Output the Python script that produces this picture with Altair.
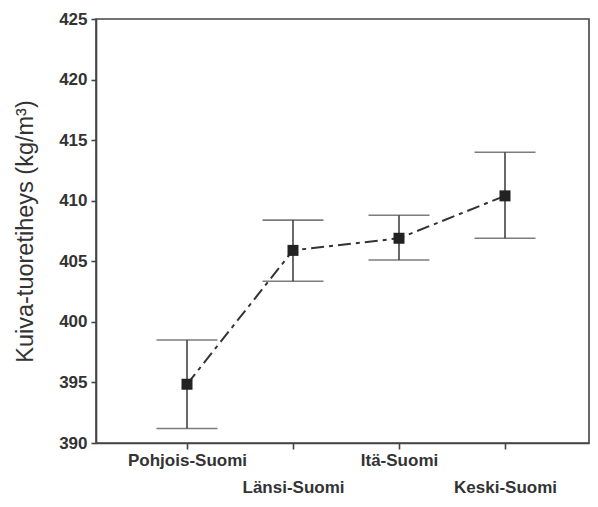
import altair as alt
import pandas as pd

regions = ["Pohjois-Suomi", "Länsi-Suomi", "Itä-Suomi", "Keski-Suomi"]
means = [394.85, 405.9, 406.9, 410.4]
lower = [391.2, 403.35, 405.1, 406.9]
upper = [398.5, 408.4, 408.8, 414.0]
y_ticks = [390, 395, 400, 405, 410, 415, 420, 425]
y_title = "Kuiva-tuoretiheys (kg/m³)"

df = pd.DataFrame({"region": regions, "mean": means, "lo": lower, "hi": upper})

second_row = regions[1::2]
row_list = "[" + ",".join("'" + r + "'" for r in second_row) + "]"
label_expr = f"indexof({row_list}, datum.value) >= 0 ? ['', datum.label] : datum.label"

FONT = "Liberation Sans"
INK = "#444"

x_enc = alt.X(
    "region:N",
    sort=regions,
    scale=alt.Scale(type="point", padding=0.8255, align=0.52),
    axis=alt.Axis(
        title=None,
        labelAngle=0,
        labelExpr=label_expr,
        labelFont=FONT,
        labelFontSize=17,
        labelFontWeight="bold",
        labelColor="#333",
        labelPadding=3,
        labelLineHeight=27,
        labelOverlap=False,
        tickSize=6,
    ),
)

y_scale = alt.Scale(domain=[390, 425], nice=False, zero=False)
y_axis = alt.Axis(
    values=y_ticks,
    title=y_title,
    titleFont=FONT,
    titleFontSize=23.5,
    titleFontWeight="normal",
    titleColor="#333",
    titlePadding=21,
    labelFont=FONT,
    labelFontSize=17,
    labelFontWeight="bold",
    labelColor="#333",
    labelPadding=4,
    tickSize=5,
    grid=False,
)

base = alt.Chart(df)

bars = base.mark_rule(color=INK, strokeWidth=1.6).encode(
    x=x_enc,
    y=alt.Y("lo:Q", scale=y_scale, axis=y_axis),
    y2="hi:Q",
)
cap_lo = base.mark_tick(color=INK, thickness=1.6, size=61, orient="horizontal").encode(
    x=alt.X("region:N", sort=regions), y="lo:Q"
)
cap_hi = base.mark_tick(color=INK, thickness=1.6, size=61, orient="horizontal").encode(
    x=alt.X("region:N", sort=regions), y="hi:Q"
)
line = base.mark_line(color="#333", strokeWidth=2, strokeDash=[13, 5, 4, 5]).encode(
    x=alt.X("region:N", sort=regions), y="mean:Q"
)
points = base.mark_square(size=121, color="#222", opacity=1, filled=True).encode(
    x=alt.X("region:N", sort=regions), y="mean:Q"
)

chart = (
    alt.layer(bars, cap_lo, cap_hi, line, points)
    .properties(
        width=493,
        height=424,
        autosize=alt.AutoSizeParams(type="none"),
        padding={"left": 88, "top": 11, "right": 1, "bottom": 53},
        background="white",
    )
    .configure_view(stroke=INK, strokeWidth=1.6)
    .configure_axis(domainColor=INK, domainWidth=1.6, tickColor=INK, tickWidth=1.6)
)

chart.save("out.html", embed_options={"renderer": "svg", "actions": False})
